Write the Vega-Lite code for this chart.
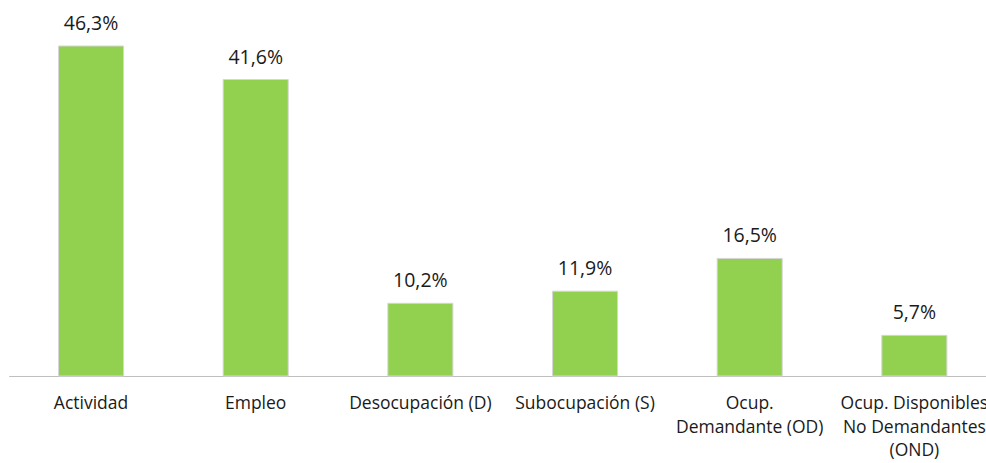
{
  "$schema": "https://vega.github.io/schema/vega-lite/v6.json",
  "autosize": {"type": "none"},
  "padding": {"left": 8.7, "top": 46, "right": 0, "bottom": 87},
  "width": 988,
  "height": 330,
  "background": "white",
  "config": {
    "view": {"stroke": null},
    "locale": {"number": {"decimal": ",", "thousands": ".", "grouping": [3], "currency": ["", " €"]}},
    "font": "Open Sans"
  },
  "data": {
    "values": [
      {"cat": "Actividad", "value": 0.463},
      {"cat": "Empleo", "value": 0.416},
      {"cat": "Desocupación (D)", "value": 0.102},
      {"cat": "Subocupación (S)", "value": 0.119},
      {"cat": "Ocup.|Demandante (OD)", "value": 0.165},
      {"cat": "Ocup. Disponibles|No Demandantes|(OND)", "value": 0.057}
    ]
  },
  "encoding": {
    "x": {
      "field": "cat", "type": "nominal", "sort": null,
      "scale": {"paddingInner": 0.605, "paddingOuter": 0.3025},
      "axis": {
        "title": null, "labelAngle": 0, "ticks": false,
        "domainColor": "#bfbfbf", "domainWidth": 1,
        "labelExpr": "split(datum.label, '|')",
        "labelFont": "Open Sans", "labelFontSize": 17.5, "labelColor": "#1a1a1a",
        "labelPadding": 19, "labelLineHeight": 23.5, "labelBaseline": "top", "labelLimit": 300
      }
    },
    "y": {
      "field": "value", "type": "quantitative",
      "scale": {"domain": [0, 0.463], "nice": false},
      "axis": null
    }
  },
  "layer": [
    {"mark": {"type": "bar", "color": "#92D050", "stroke": "#d6d6d6", "strokeWidth": 1}},
    {
      "mark": {"type": "text", "baseline": "bottom", "dy": -12, "fontSize": 19.5, "color": "#1a1a1a", "font": "Open Sans"},
      "encoding": {"text": {"field": "value", "type": "quantitative", "format": ".1%"}}
    }
  ]
}
